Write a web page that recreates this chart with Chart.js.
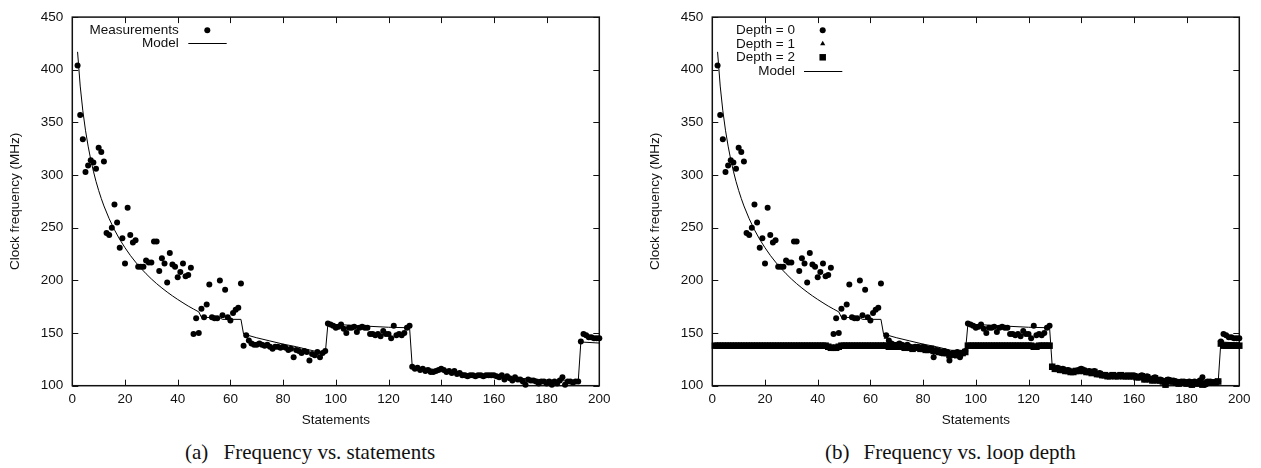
<!DOCTYPE html>
<html>
<head>
<meta charset="utf-8">
<script src="https://cdn.jsdelivr.net/npm/chart.js@4.4.0/dist/chart.umd.min.js"></script>
<style>
html, body { margin: 0; padding: 0; background: #fff; overflow: hidden; }
body { width: 1261px; height: 468px; position: relative; }
canvas { position: absolute; top: 0; }
#chartA { left: 0; }
#chartB { left: 640px; }
.caption {
    position: absolute; top: 441.5px;
    font-family: 'Liberation Serif', 'Times New Roman', serif;
    font-size: 21px; line-height: 21px; color: #111; white-space: nowrap;
}
.caption .tag { display: inline-block; width: 38.5px; }
</style>
</head>
<body>
<canvas id="chartA" width="630" height="440"></canvas>
<canvas id="chartB" width="621" height="440"></canvas>
<div class="caption" style="left:185px"><span class="tag">(a)</span>Frequency vs. statements</div>
<div class="caption" style="left:825px"><span class="tag">(b)</span>Frequency vs. loop depth</div>

<script>
// Measured clock frequency (MHz), one value per statement count, starting at 2
const firstStatement = 2;
const measured = [
    404, 357, 334, 303, 309, 314, 312, 306, 326, 322,   // 2-11
    313, 245, 243, 250, 272, 255, 231, 240, 216, 269,   // 12-21
    243, 236, 238, 213, 213, 213, 219, 217, 217, 237,   // 22-31
    237, 209, 221, 216, 198, 226, 215, 213, 203, 208,   // 32-41
    216, 204, 205, 212, 149, 164, 150, 173, 165, 177,   // 42-51
    196, 165, 164, 164, 200, 167, 191, 165, 162, 169,   // 52-61
    172, 174, 197, 138, 148, 143, 140, 139, 139, 140,   // 62-71
    139, 138, 139, 137, 135, 137, 137, 136, 137, 136,   // 72-81
    134, 135, 127, 134, 133, 131, 133, 132, 124, 130,   // 82-91
    129, 132, 127, 131, 133, 159, 158, 157, 155, 156,   // 92-101
    158, 154, 150, 155, 155, 156, 151, 155, 156, 155,   // 102-111
    155, 149, 149, 148, 149, 147, 152, 149, 149, 145,   // 112-121
    157, 148, 149, 148, 150, 155, 157, 118, 116, 117,   // 122-131
    115, 116, 114, 115, 113, 113, 114, 115, 116, 115,   // 132-141
    113, 114, 112, 114, 111, 112, 110, 110, 109, 110,   // 142-151
    110, 109, 110, 110, 109, 110, 110, 110, 110, 109,   // 152-161
    108, 110, 106, 109, 107, 105, 108, 106, 106, 104,   // 162-171
    101, 106, 105, 105, 104, 102, 104, 104, 102, 104,   // 172-181
    101, 104, 102, 105, 108, 101, 104, 104, 103, 104,   // 182-191
    104, 142, 149, 148, 146, 146, 145, 145, 145         // 192-200
];

// Model curve
const modelStatements = [2, 3, 4, 5, 6, 7, 8, 9, 10, 11, 12, 14, 16, 18, 20, 22, 24, 26, 28, 30,
    32, 34, 36, 38, 40, 42, 44, 46, 48, 49, 56, 57, 64, 65, 70, 75, 80, 85, 90, 96,
    97, 105, 112, 120, 128, 129, 140, 150, 160, 170, 180, 192, 193, 200];
const modelFreq = [417, 384.5, 361, 342.6, 327.5, 314.7, 303.7, 294, 285.4, 277.7, 270.7, 258.5, 248, 238.9, 231, 223.8, 217.4, 211.6, 206.3, 201.4,
    196.9, 192.8, 188.9, 185.3, 181.9, 178.7, 175.6, 172.8, 170.1, 165, 164.5, 163, 163, 149, 145.5, 142.5, 139.5, 137, 134, 130.5,
    158.5, 157.5, 156.5, 155.5, 155, 118.5, 114.5, 111.5, 109, 107, 105.5, 104, 141.5, 140.5];

// Loop depth 1 (statements 65-96)
const depth1First = 65;
const depth1Freq = [139, 146, 141, 139, 138, 138, 139, 138, 137, 138, 136, 134, 136, 136, 135, 136,
    135, 133, 134, 128, 133, 132, 130, 132, 131, 125, 129, 128, 131, 128, 130, 132];

// Loop depth 2 (statements 1-200)
const depth2First = 1;
const depth2Freq = [
    138, 138, 138, 138, 138, 138, 138, 138, 138, 138, 138, 138, 138, 138, 138, 138,   // 1-16
    138, 138, 138, 138, 138, 138, 138, 138, 138, 138, 138, 138, 138, 138, 138, 138,   // 17-32
    138, 138, 138, 138, 138, 138, 138, 138, 138, 138, 138, 137, 136, 136, 136, 137,   // 33-48
    138, 138, 138, 138, 138, 138, 138, 138, 138, 138, 138, 138, 138, 138, 138, 138,   // 49-64
    138, 138, 137, 138, 137, 138, 137, 137, 136, 137, 136, 135, 136, 136, 135, 135,   // 65-80
    134, 134, 135, 133, 133, 132, 132, 131, 131, 129, 130, 131, 129, 130, 131, 132,   // 81-96
    138, 138, 138, 138, 138, 138, 138, 138, 138, 138, 138, 138, 138, 138, 138, 138,   // 97-112
    138, 138, 138, 138, 138, 138, 138, 138, 138, 137, 137, 138, 138, 138, 138, 138,   // 113-128
    118, 116, 116, 115, 115, 114, 114, 113, 113, 114, 114, 115, 114, 113, 113, 112,   // 129-144
    113, 111, 111, 110, 110, 109, 109, 110, 109, 109, 110, 109, 109, 109, 109, 109,   // 145-160
    108, 108, 109, 106, 108, 106, 105, 107, 105, 105, 104, 101, 105, 104, 104, 103,   // 161-176
    102, 103, 103, 102, 103, 101, 103, 102, 103, 101, 102, 103, 103, 103, 103, 104,   // 177-192
    140, 138, 138, 138, 138, 138, 138, 138                                             // 193-200
];

const xTickValues = [0, 20, 40, 60, 80, 100, 120, 140, 160, 180, 200];
const yTickValues = [100, 150, 200, 250, 300, 350, 400, 450];

const sans = "'Liberation Sans', Arial, Helvetica, sans-serif";
const ink = '#111';

function toPoints(first, values) {
    return values.map((v, i) => ({ x: first + i, y: v }));
}

const modelPoints = modelFreq.map((v, i) => ({ x: modelStatements[i], y: v }));

function markers(label, data, style, radius) {
    return {
        label: label, data: data, showLine: false, clip: false,
        pointStyle: style, pointRadius: radius, pointBorderWidth: 0,
        pointBackgroundColor: '#000', pointBorderColor: '#000'
    };
}

function modelSet() {
    return {
        label: 'Model', data: modelPoints, showLine: true, tension: 0,
        borderColor: '#000', borderWidth: 1, pointRadius: 0, clip: false
    };
}

// gnuplot style frame with inward ticks on all sides
const framePlugin = {
    id: 'frame',
    beforeDatasetsDraw(chart) {
        const { ctx, chartArea: a, scales: { x, y } } = chart;
        ctx.save();
        ctx.strokeStyle = ink;
        ctx.lineWidth = 1;
        ctx.beginPath();
        xTickValues.forEach(v => {
            const px = Math.round(x.getPixelForValue(v)) + 0.5;
            ctx.moveTo(px, a.bottom); ctx.lineTo(px, a.bottom - 6);
            ctx.moveTo(px, a.top); ctx.lineTo(px, a.top + 6);
        });
        yTickValues.forEach(v => {
            const py = Math.round(y.getPixelForValue(v)) + 0.5;
            ctx.moveTo(a.left, py); ctx.lineTo(a.left + 6, py);
            ctx.moveTo(a.right, py); ctx.lineTo(a.right - 6, py);
        });
        ctx.stroke();
        ctx.lineWidth = 1.5;
        ctx.strokeRect(a.left, a.top, a.right - a.left, a.bottom - a.top);
        ctx.restore();
    }
};

// key in the top left corner
const keyPlugin = {
    id: 'gnuKey',
    afterDatasetsDraw(chart, args, opts) {
        const { ctx, chartArea: a } = chart;
        ctx.save();
        ctx.font = '13.5px ' + sans;
        ctx.textAlign = 'right';
        ctx.textBaseline = 'middle';
        opts.items.forEach((item, i) => {
            const y = a.top + opts.rowY0 + i * opts.rowStep;
            ctx.fillStyle = ink;
            ctx.fillText(item.text, a.left + opts.textRight, y);
            const ds = chart.data.datasets[item.dataset];
            if (ds.showLine) {
                ctx.strokeStyle = '#000';
                ctx.lineWidth = 1;
                ctx.beginPath();
                ctx.moveTo(a.left + opts.lineFrom, Math.round(y) + 0.5);
                ctx.lineTo(a.left + opts.lineTo, Math.round(y) + 0.5);
                ctx.stroke();
            } else {
                ctx.fillStyle = '#000';
                Chart.helpers.drawPoint(ctx, { pointStyle: ds.pointStyle, radius: ds.pointRadius, borderWidth: 0, rotation: 0 },
                    a.left + opts.markerX, y);
            }
        });
        ctx.restore();
    }
};

function buildOptions(padRight, key) {
    const tickFont = { family: sans, size: 13.5 };
    return {
        responsive: false,
        animation: false,
        events: [],
        layout: { padding: { left: 0, top: 9.5, right: padRight, bottom: 0 } },
        plugins: { legend: { display: false }, tooltip: { enabled: false }, gnuKey: key },
        scales: {
            x: {
                type: 'linear', min: 0, max: 200,
                afterFit: s => { s.height = 54.3; },
                afterBuildTicks: s => { s.ticks = xTickValues.map(v => ({ value: v })); },
                grid: { display: false, drawTicks: false },
                border: { display: false },
                ticks: { padding: 5, font: tickFont, color: ink, maxRotation: 0, autoSkip: false },
                title: { display: true, text: 'Statements', font: tickFont, color: ink, padding: { top: 0, bottom: 12 } }
            },
            y: {
                type: 'linear', min: 100, max: 450,
                afterFit: s => { s.width = 72.3; },
                afterBuildTicks: s => { s.ticks = yTickValues.map(v => ({ value: v })); },
                grid: { display: false, drawTicks: false },
                border: { display: false },
                ticks: { padding: 9, font: tickFont, color: ink, autoSkip: false },
                title: { display: true, text: 'Clock frequency (MHz)', font: tickFont, color: ink, padding: { top: 7, bottom: 0 } }
            }
        }
    };
}

new Chart(document.getElementById('chartA'), {
    type: 'scatter',
    data: {
        datasets: [
            markers('Measurements', toPoints(firstStatement, measured), 'circle', 3),
            modelSet()
        ]
    },
    options: buildOptions(30.7, {
        textRight: 106.4, markerX: 135, lineFrom: 116, lineTo: 154.4, rowY0: 13.2, rowStep: 12.8,
        items: [{ text: 'Measurements', dataset: 0 }, { text: 'Model', dataset: 1 }]
    }),
    plugins: [framePlugin, keyPlugin]
});

new Chart(document.getElementById('chartB'), {
    type: 'scatter',
    data: {
        datasets: [
            markers('Depth = 0', toPoints(firstStatement, measured), 'circle', 3),
            markers('Depth = 1', toPoints(depth1First, depth1Freq), 'triangle', 3),
            markers('Depth = 2', toPoints(depth2First, depth2Freq), 'rect', 4.6),
            modelSet()
        ]
    },
    options: buildOptions(21.7, {
        textRight: 82.7, markerX: 110.4, lineFrom: 91.7, lineTo: 130, rowY0: 13.2, rowStep: 13.5,
        items: [{ text: 'Depth = 0', dataset: 0 }, { text: 'Depth = 1', dataset: 1 },
                { text: 'Depth = 2', dataset: 2 }, { text: 'Model', dataset: 3 }]
    }),
    plugins: [framePlugin, keyPlugin]
});
</script>
</body>
</html>
